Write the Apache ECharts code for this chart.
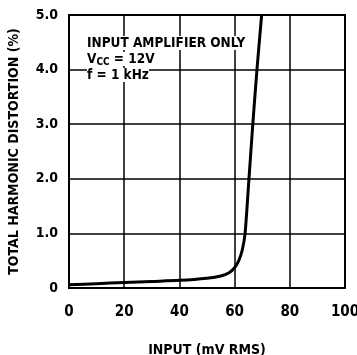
<!DOCTYPE html>
<html>
<head>
<meta charset="utf-8">
<script src="https://cdn.jsdelivr.net/npm/echarts@6/dist/echarts.min.js"></script>
<style>
  html, body { margin: 0; padding: 0; background: #fff; }
  #chart { width: 357px; height: 355px; }
</style>
</head>
<body>
<div id="chart"></div>
<script>
// input level (mV RMS) vs THD (%)
const inputMv = [0, 10, 20, 30, 40, 50, 55, 58, 60, 61.5, 62.8, 63.8, 65.2, 66.6, 68.1, 69.8];
const thdPct = [0.06, 0.08, 0.10, 0.12, 0.14, 0.18, 0.22, 0.28, 0.37, 0.5, 0.7, 1.0, 2.0, 3.0, 4.0, 5.0];
const xTicks = [0, 20, 40, 60, 80, 100];
const yTicks = [0, 1, 2, 3, 4, 5];

const font = "'Liberation Sans Narrow', 'DejaVu Sans Condensed', sans-serif";
const chart = echarts.init(document.getElementById('chart'));

const options = {
  animation: false,
  grid: {
    left: 69,
    right: 12,
    top: 15,
    bottom: 67,
    outerBoundsMode: 'none',
    containLabel: false,
    show: true,
    borderColor: '#000',
    borderWidth: 2
  },
  xAxis: {
    type: 'value',
    min: xTicks[0],
    max: xTicks[xTicks.length - 1],
    interval: 20,
    name: 'INPUT (mV RMS)',
    nameLocation: 'middle',
    nameGap: 55,
    nameTextStyle: { fontFamily: font, fontWeight: 'bold', fontSize: 14, color: '#000' },
    axisLine: { lineStyle: { color: '#000', width: 2 } },
    axisTick: { show: false },
    axisLabel: { margin: 17, fontFamily: font, fontWeight: 'bold', fontSize: 15, color: '#000' },
    splitLine: { lineStyle: { color: '#000', width: 1.5 } }
  },
  yAxis: {
    type: 'value',
    min: yTicks[0],
    max: yTicks[yTicks.length - 1],
    interval: 1,
    name: 'TOTAL HARMONIC DISTORTION (%)',
    nameLocation: 'middle',
    nameGap: 48,
    nameTextStyle: { fontFamily: font, fontWeight: 'bold', fontSize: 14, color: '#000' },
    axisLine: { lineStyle: { color: '#000', width: 2 } },
    axisTick: { show: false },
    axisLabel: {
      margin: 11,
      fontFamily: font,
      fontWeight: 'bold',
      fontSize: 14,
      color: '#000',
      formatter: function (v) { return v === 0 ? '0' : v.toFixed(1); }
    },
    splitLine: { lineStyle: { color: '#000', width: 1.5 } }
  },
  graphic: [{
    type: 'text',
    left: 87,
    top: 35,
    z: 10,
    style: {
      text: '{a|INPUT AMPLIFIER ONLY}\n{a|V}{s|CC}{a| = 12V}\n{a|f = 1 kHz}',
      fontFamily: font,
      fontWeight: 'bold',
      fill: '#000',
      lineHeight: 16,
      rich: {
        a: { fontFamily: font, fontWeight: 'bold', fontSize: 13.5, backgroundColor: '#fff', lineHeight: 16 },
        s: { fontFamily: font, fontWeight: 'bold', fontSize: 10, backgroundColor: '#fff', lineHeight: 16, verticalAlign: 'bottom' }
      }
    }
  }],
  series: [{
    type: 'line',
    data: inputMv.map((x, i) => [x, thdPct[i]]),
    smooth: 0.25,
    showSymbol: false,
    clip: true,
    lineStyle: { color: '#000', width: 3 }
  }]
};

chart.setOption(options);
</script>
</body>
</html>
